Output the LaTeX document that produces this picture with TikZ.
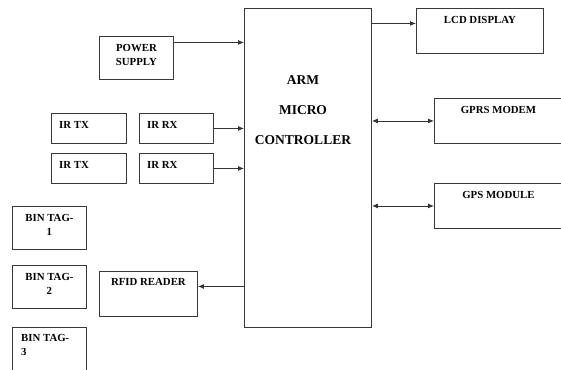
\documentclass[tikz,border=0pt]{standalone}
\usepackage{fontspec}
\setmainfont{Liberation Serif}
\usetikzlibrary{arrows.meta, positioning}

\begin{document}
\begin{tikzpicture}[x=1pt, y=-1pt,
    block/.style={rectangle, draw=black!78, line width=0.9pt, anchor=north west, inner sep=0pt},
    lbl/.style={font=\bfseries\fontsize{10.8}{14.5}\selectfont, align=center, inner sep=0pt,
      anchor=north, yshift=-8pt},
    lbll/.style={lbl, align=left, anchor=north west, xshift=8pt},
    arrow/.style={-{Latex[length=6pt, width=5pt]}, draw=black!80, line width=0.9pt},
    biarrow/.style={arrow, {Latex[length=6pt, width=5pt]}-{Latex[length=6pt, width=5pt]}},
  ]
  \useasboundingbox (0,0) rectangle (561,369);
  \clip (0,0) rectangle (561,369);

  % controller
  \node[block, minimum width=127pt, minimum height=319pt] (arm) at (244,8) {};
  \node[font=\bfseries\fontsize{13.5}{30}\selectfont, align=center] (armlbl) at (303,110)
    {ARM\\MICRO\\CONTROLLER};

  % inputs
  \node[block, minimum width=74pt, minimum height=43pt,
    label={[lbl]north:POWER\\SUPPLY}] (power) at (99,36) {};
  \node[block, minimum width=75pt, minimum height=30pt,
    label={[lbll]north west:IR TX}] (irtx1) at (51,113) {};
  \node[block, minimum width=74pt, minimum height=30pt,
    label={[lbll]north west:IR RX}] (irrx1) at (139,113) {};
  \node[block, minimum width=75pt, minimum height=30pt,
    label={[lbll]north west:IR TX}] (irtx2) at (51,153) {};
  \node[block, minimum width=74pt, minimum height=30pt,
    label={[lbll]north west:IR RX}] (irrx2) at (139,153) {};

  % bin tags
  \node[block, minimum width=74pt, minimum height=43pt,
    label={[lbl]north:BIN TAG-\\1}] (tag1) at (12,206) {};
  \node[block, minimum width=74pt, minimum height=43pt,
    label={[lbl]north:BIN TAG-\\2}] (tag2) at (12,265) {};
  \node[block, minimum width=74pt, minimum height=50pt,
    label={[lbll, xshift=1pt, yshift=1pt]north west:BIN TAG-\\3}] (tag3) at (12,327) {};
  \node[block, minimum width=98pt, minimum height=45pt,
    label={[lbl, yshift=1pt]north:RFID READER}] (rfid) at (99,271) {};

  % outputs
  \node[block, minimum width=127pt, minimum height=45pt,
    label={[lbl]north:LCD DISPLAY}] (lcd) at (416,8) {};
  \node[block, minimum width=128pt, minimum height=45pt,
    label={[lbl]north:GPRS MODEM}] (gprs) at (434,98) {};
  \node[block, minimum width=128pt, minimum height=45pt,
    label={[lbl]north:GPS MODULE}] (gps) at (434,183) {};

  % connections
  \path ([yshift=15.5pt]power.east) coordinate (pwrout);
  \draw[arrow] (pwrout) -- (pwrout -| arm.west);
  \draw[arrow] (irrx1) -- (irrx1 -| arm.west);
  \draw[arrow] (irrx2) -- (irrx2 -| arm.west);
  \path ([yshift=7.5pt]lcd.west) coordinate (lcdin);
  \draw[arrow] (lcdin -| arm.east) -- (lcdin);
  \draw[biarrow] (gprs -| arm.east) -- (gprs.west);
  \draw[biarrow] (gps -| arm.east) -- (gps.west);
  \path ([yshift=7.5pt]rfid.east) coordinate (rfidin);
  \draw[arrow] (rfidin -| arm.west) -- (rfidin);
\end{tikzpicture}
\end{document}
